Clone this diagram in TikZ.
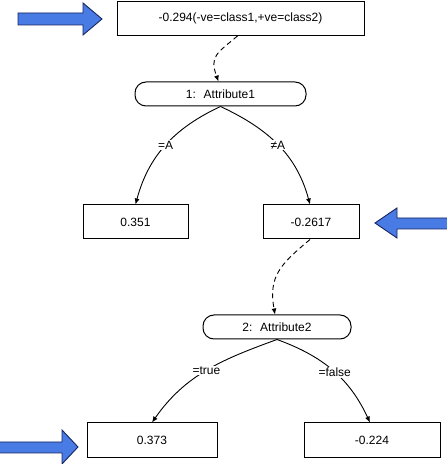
\documentclass[tikz,border=0pt]{standalone}
\usepackage{fontspec}
\setmainfont{Liberation Sans}
\usetikzlibrary{arrows.meta}

\definecolor{arrowblue}{RGB}{72,124,228}
\definecolor{arrowedge}{RGB}{25,35,95}

\tikzset{
  valbox/.style={draw, line width=1pt, minimum height=34pt, inner sep=0pt},
  attrbox/.style={draw, line width=1pt, rounded corners=11pt, minimum height=24pt, inner sep=0pt},
  branch/.style={-{Latex[length=6pt,width=5pt]}, line width=0.9pt},
  chain/.style={branch, dash pattern=on 5pt off 3.5pt},
  edgelabel/.style={fill=white, inner sep=1pt},
  pointer/.style={fill=arrowblue, draw=arrowedge, line width=0.9pt, line join=miter}
}

\begin{document}
\begin{tikzpicture}
		[
		x=1pt, y=1pt, font=\fontsize{12}{14}\selectfont
		%Einheit: 1pt = 1 Pixel
		]
		\useasboundingbox (0,0) rectangle (447,464);
		
		%Wurzel
		\node[valbox, minimum width=247pt] (root) at (240.5,445.5) {-0.294(-ve=class1,+ve=class2)};
		
		%Erster Test
		\node[attrbox, minimum width=171pt] (attr1) at (220.5,370) {1:~ Attribute1};
		\node[valbox, minimum width=105pt] (leafA) at (135.5,242) {0.351};
		\node[valbox, minimum width=96pt] (leafB) at (311,242) {-0.2617};
		
		%Zweiter Test
		\node[attrbox, minimum width=148pt] (attr2) at (277,137) {2:~ Attribute2};
		\node[valbox, minimum width=130pt, minimum height=35pt] (leafC) at (152,23.5) {0.373};
		\node[valbox, minimum width=136pt, minimum height=35pt] (leafD) at (372,23.5) {-0.224};
		
		%Verbindungen
		\draw[chain] ([xshift=-3pt]root.south) to[out=220, in=110, looseness=1.4] ([xshift=-2pt]attr1.north);
		\draw[branch] (attr1.south) to[out=205, in=75] node[edgelabel, pos=0.5] {=A} (leafA.north);
		\draw[branch] (attr1.south) to[out=-25, in=105] node[edgelabel, pos=0.5] {≠A} ([xshift=-1pt]leafB.north);
		\draw[chain] ([xshift=-1pt]leafB.south) to[out=220, in=100, looseness=1.2] ([xshift=-2pt]attr2.north);
		\draw[branch] (attr2.south) to[out=200, in=55] node[edgelabel, pos=0.5] {=true} (leafC.north);
		\draw[branch] (attr2.south) to[out=-20, in=115] node[edgelabel, pos=0.52] {=false} ([xshift=-2pt]leafD.north);
		
		%Blaue Pfeile
		\filldraw[pointer] (18,439) -- (83,439) -- (83,429) -- (102,445) -- (83,461) -- (83,451) -- (18,451) -- cycle;
		\filldraw[pointer] (447,235) -- (397,235) -- (397,226) -- (375,241) -- (397,256) -- (397,246) -- (447,246);
		\filldraw[pointer] (0,11) -- (62,11) -- (62,0) -- (78,17) -- (62,34) -- (62,22) -- (0,22);
	\end{tikzpicture}
\end{document}
